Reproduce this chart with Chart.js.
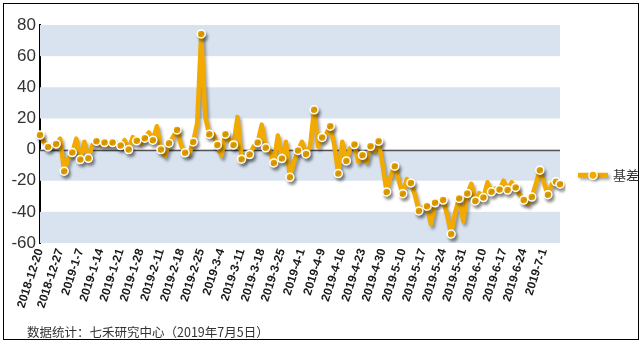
<!DOCTYPE html>
<html>
<head>
<meta charset="utf-8">
<script src="https://cdn.jsdelivr.net/npm/chart.js@4.4.1/dist/chart.umd.min.js"></script>
<style>
  html, body { margin: 0; padding: 0; background: #fff; }
  #wrap { position: relative; width: 644px; height: 344px; }
  #frame { position: absolute; left: 3px; top: 3px; width: 636px; height: 337px; border: 1px solid #000; box-sizing: border-box; pointer-events: none; }
  #note { position: absolute; left: 27px; top: 322px; font: 12.5px "Noto Sans CJK SC", "Liberation Sans", sans-serif; color: #333; }
</style>
</head>
<body>
<div id="wrap">
  <canvas id="basisChart" width="644" height="344"></canvas>
  <div id="frame"></div>
  <div id="note">数据统计：七禾研究中心（2019年7月5日）</div>
</div>
<script>
// ===== Data =====
const dates = [
  "2018-12-20", "2018-12-21", "2018-12-24", "2018-12-25", "2018-12-26",
  "2018-12-27", "2018-12-28", "2019-1-2", "2019-1-3", "2019-1-4",
  "2019-1-7", "2019-1-8", "2019-1-9", "2019-1-10", "2019-1-11",
  "2019-1-14", "2019-1-15", "2019-1-16", "2019-1-17", "2019-1-18",
  "2019-1-21", "2019-1-22", "2019-1-23", "2019-1-24", "2019-1-25",
  "2019-1-28", "2019-1-29", "2019-1-30", "2019-1-31", "2019-2-1",
  "2019-2-11", "2019-2-12", "2019-2-13", "2019-2-14", "2019-2-15",
  "2019-2-18", "2019-2-19", "2019-2-20", "2019-2-21", "2019-2-22",
  "2019-2-25", "2019-2-26", "2019-2-27", "2019-2-28", "2019-3-1",
  "2019-3-4", "2019-3-5", "2019-3-6", "2019-3-7", "2019-3-8",
  "2019-3-11", "2019-3-12", "2019-3-13", "2019-3-14", "2019-3-15",
  "2019-3-18", "2019-3-19", "2019-3-20", "2019-3-21", "2019-3-22",
  "2019-3-25", "2019-3-26", "2019-3-27", "2019-3-28", "2019-3-29",
  "2019-4-1", "2019-4-2", "2019-4-3", "2019-4-4", "2019-4-8",
  "2019-4-9", "2019-4-10", "2019-4-11", "2019-4-12", "2019-4-15",
  "2019-4-16", "2019-4-17", "2019-4-18", "2019-4-19", "2019-4-22",
  "2019-4-23", "2019-4-24", "2019-4-25", "2019-4-26", "2019-4-29",
  "2019-4-30", "2019-5-6", "2019-5-7", "2019-5-8", "2019-5-9",
  "2019-5-10", "2019-5-13", "2019-5-14", "2019-5-15", "2019-5-16",
  "2019-5-17", "2019-5-20", "2019-5-21", "2019-5-22", "2019-5-23",
  "2019-5-24", "2019-5-27", "2019-5-28", "2019-5-29", "2019-5-30",
  "2019-5-31", "2019-6-3", "2019-6-4", "2019-6-5", "2019-6-6",
  "2019-6-10", "2019-6-11", "2019-6-12", "2019-6-13", "2019-6-14",
  "2019-6-17", "2019-6-18", "2019-6-19", "2019-6-20", "2019-6-21",
  "2019-6-24", "2019-6-25", "2019-6-26", "2019-6-27", "2019-6-28",
  "2019-7-1", "2019-7-2", "2019-7-3", "2019-7-4", "2019-7-5"
];

const basis = [
  9.4, 5, 1.7, 3, 3.6, 7, -13.9, -6, -1.9, 7,
  -6.4, 5, -5.6, 3, 5.4, 3, 4.5, 3, 4.5, 3,
  2.6, 6, 0, 8, 5.6, 4, 7.3, 11, 6, 15,
  0, -4, 4.1, 8, 12.6, 3, -2.1, -3, 4.9, 17,
  74.3, 21, 9.9, 10, 3, -4, 9.9, 6, 3, 21,
  -6.2, -5, -3.2, 2, 4.5, 16, 1.1, -1, -8.6, 9,
  -5.8, 5, -17.8, -8, -0.6, 5, -2.8, 2, 25.5, 2,
  7.8, 10, 15, 3, -15.4, 5, -7.3, 1, 3.2, -8,
  -3.6, -8, 2.1, -1, 5.4, -10, -27.2, -17, -10.7, -20,
  -28.3, -19, -21.4, -29, -39.4, -37, -36.4, -48, -34.2, -33,
  -32.4, -42, -54.3, -40, -31.4, -46, -28.2, -22, -33, -28,
  -30.8, -21, -27.1, -25, -25.6, -20, -26, -21, -24.3, -29,
  -32.4, -35, -30.5, -22, -13.2, -21, -29, -22, -20.6, -22.2
];

const yTicks = [-60, -40, -20, 0, 20, 40, 60, 80];
const seriesName = "基差";

const ORANGE = "#f2aa00";
const BAND = "#d8e3ef";

// background bands + zero line
const bandsPlugin = {
  id: "bands",
  beforeDatasetsDraw(chart) {
    const { ctx, chartArea, scales } = chart;
    const y = scales.y;
    ctx.save();
    for (let i = 0; i < yTicks.length - 1; i++) {
      if (i % 2 !== 0) continue;
      const top = y.getPixelForValue(yTicks[i + 1]);
      const bot = y.getPixelForValue(yTicks[i]);
      ctx.fillStyle = BAND;
      ctx.fillRect(chartArea.left, top, chartArea.right - chartArea.left, bot - top);
    }
    const zero = Math.round(y.getPixelForValue(0)) + 0.5;
    ctx.strokeStyle = "#555";
    ctx.lineWidth = 1.5;
    ctx.beginPath();
    ctx.moveTo(chartArea.left, zero);
    ctx.lineTo(chartArea.right, zero);
    ctx.stroke();
    ctx.restore();
  }
};

// drop shadow under the line
const shadowPlugin = {
  id: "lineShadow",
  beforeDatasetDraw(chart) {
    const ctx = chart.ctx;
    ctx.save();
    ctx.shadowColor = "rgba(0,0,0,0.35)";
    ctx.shadowBlur = 3;
    ctx.shadowOffsetX = 2;
    ctx.shadowOffsetY = 3;
  },
  afterDatasetDraw(chart) {
    chart.ctx.restore();
  }
};

// legend: line + marker + name, right of the plot
const legendPlugin = {
  id: "sideLegend",
  afterDraw(chart) {
    const { ctx, chartArea } = chart;
    const x0 = chartArea.right + 18;
    const yc = chart.scales.y.getPixelForValue(-16.5);
    ctx.save();
    ctx.shadowColor = "rgba(0,0,0,0.35)";
    ctx.shadowBlur = 3;
    ctx.shadowOffsetX = 2;
    ctx.shadowOffsetY = 2;
    ctx.strokeStyle = ORANGE;
    ctx.lineWidth = 5;
    ctx.beginPath();
    ctx.moveTo(x0, yc);
    ctx.lineTo(x0 + 30, yc);
    ctx.stroke();
    ctx.beginPath();
    ctx.arc(x0 + 15, yc, 4.2, 0, Math.PI * 2);
    ctx.fillStyle = ORANGE;
    ctx.fill();
    ctx.shadowColor = "transparent";
    ctx.lineWidth = 1.5;
    ctx.strokeStyle = "#fff";
    ctx.stroke();
    ctx.fillStyle = "#333";
    ctx.font = '13px "Noto Sans CJK SC", sans-serif';
    ctx.textBaseline = "middle";
    ctx.fillText(seriesName, x0 + 35, yc);
    ctx.restore();
  }
};

const ctx = document.getElementById("basisChart");
const lastIdx = basis.length - 1;

new Chart(ctx, {
  type: "line",
  data: {
    labels: dates,
    datasets: [
      {
        label: seriesName,
        data: basis,
        borderColor: ORANGE,
        borderWidth: 4.5,
        tension: 0,
        borderJoinStyle: "round",
        pointBackgroundColor: ORANGE,
        pointBorderColor: "#fff",
        pointBorderWidth: 1.5,
        pointRadius: (c) => (c.dataIndex % 2 === 0 || c.dataIndex === lastIdx ? 4 : 0),
        pointHoverRadius: 0,
      },
    ],
  },
  options: {
    responsive: false,
    animation: false,
    events: [],
    layout: { padding: { top: 25, right: 84, bottom: 0, left: 0 } },
    plugins: { legend: { display: false }, tooltip: { enabled: false } },
    scales: {
      x: {
        offset: false,
        grid: { display: false, drawTicks: false },
        border: { display: false },
        ticks: {
          autoSkip: false,
          minRotation: 72,
          maxRotation: 72,
          padding: 4,
          color: "#1a1a1a",
          font: { family: "Liberation Sans, Arial, sans-serif", size: 12, weight: "bold" },
          callback: function (val, i) { return i % 5 === 0 ? dates[i] : ""; },
        },
        afterFit(scale) { scale.height = 101; },
      },
      y: {
        min: -60,
        max: 80,
        afterBuildTicks(scale) { scale.ticks = yTicks.map(v => ({ value: v })); },
        grid: { display: false, drawTicks: false },
        border: { display: true, color: "#000", width: 2 },
        ticks: {
          padding: 4,
          color: "#333",
          font: { family: "Liberation Sans, Arial, sans-serif", size: 17 },
        },
        afterFit(scale) { scale.width = 40; },
      },
    },
  },
  plugins: [bandsPlugin, shadowPlugin, legendPlugin],
});
</script>
</body>
</html>
